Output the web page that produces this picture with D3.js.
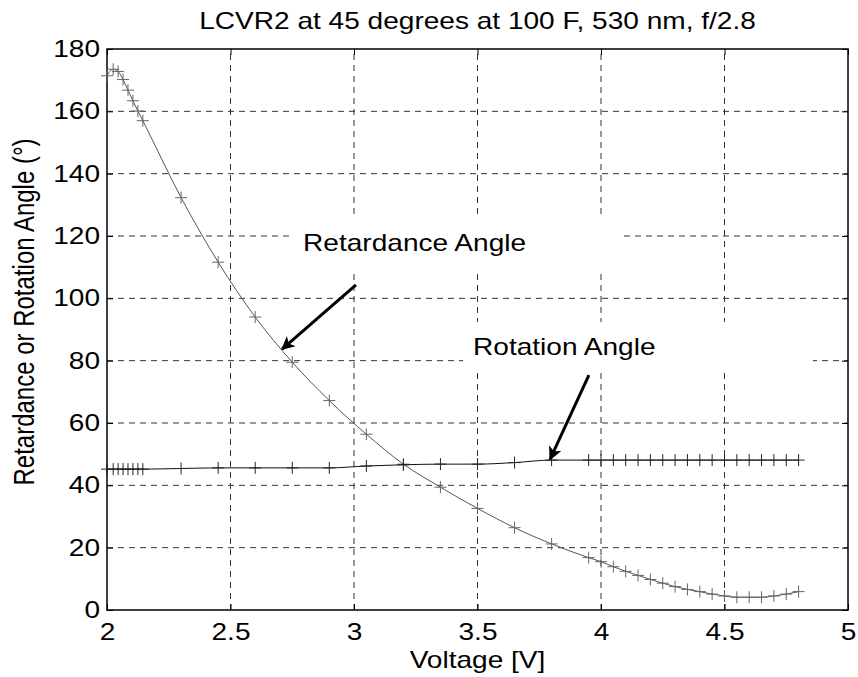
<!DOCTYPE html>
<html><head><meta charset="utf-8">
<script src="https://cdn.jsdelivr.net/npm/d3@7"></script>
<style>body{margin:0;background:#fff}svg{display:block}text{font-family:"Liberation Sans",Arial,sans-serif}</style>
</head><body><svg id="c" width="858" height="677"></svg>
<script>
const voltage = [2.0, 2.025, 2.045, 2.065, 2.085, 2.105, 2.125, 2.145, 2.3, 2.45, 2.6, 2.75, 2.9, 3.05, 3.2, 3.35, 3.5, 3.65, 3.8, 3.95, 4.0, 4.05, 4.1, 4.15, 4.2, 4.25, 4.3, 4.35, 4.4, 4.45, 4.5, 4.55, 4.6, 4.65, 4.7, 4.75, 4.8];
const retardance = [171.4, 173.5, 172.8, 170.2, 166.8, 163.4, 160.1, 157.0, 132.3, 111.6, 94.0, 79.5, 67.2, 56.4, 46.8, 39.4, 32.6, 26.4, 21.2, 16.8, 15.5, 13.9, 12.4, 11.1, 9.8, 8.6, 7.5, 6.6, 5.9, 5.1, 4.5, 4.1, 4.1, 4.1, 4.5, 5.1, 5.9];
const rotation = [45.2, 45.2, 45.2, 45.2, 45.2, 45.2, 45.2, 45.2, 45.4, 45.6, 45.6, 45.6, 45.6, 46.2, 46.6, 46.8, 46.8, 47.3, 48.1, 48.1, 48.1, 48.1, 48.1, 48.1, 48.1, 48.1, 48.1, 48.1, 48.1, 48.1, 48.1, 48.1, 48.1, 48.1, 48.1, 48.1, 48.1];
const xTicks = [2, 2.5, 3, 3.5, 4, 4.5, 5];
const xTickLabels = ["2", "2.5", "3", "3.5", "4", "4.5", "5"];
const yTicks = [0, 20, 40, 60, 80, 100, 120, 140, 160, 180];
const yTickLabels = ["0", "20", "40", "60", "80", "100", "120", "140", "160", "180"];
const title = "LCVR2 at 45 degrees at 100 F, 530 nm, f/2.8";
const xLabel = "Voltage [V]";
const yLabel = "Retardance or Rotation Angle (\u00B0)";
const annotations = [
  {text: "Retardance Angle", x: 2.794, y: 115.2, boxRight: 4.077, from: [3.008, 104.3], to: [2.709, 83.7]},
  {text: "Rotation Angle", x: 3.482, y: 81.8, boxRight: 4.858, from: [3.951, 75.4], to: [3.794, 48.4]}
];

const SX = 1.22, FS = 23;
const svg = d3.select("#c");
const L = 107, R = 848, T = 49, B = 610;
const x = d3.scaleLinear().domain([2, 5]).range([L, R]);
const y = d3.scaleLinear().domain([0, 180]).range([B, T]);

// grid
const grid = svg.append("g").attr("stroke", "#333").attr("stroke-width", 1).attr("stroke-dasharray", "6,5");
xTicks.slice(1, -1).forEach(v => grid.append("line").attr("x1", x(v)).attr("x2", x(v)).attr("y1", B).attr("y2", T));
yTicks.slice(1, -1).forEach(v => grid.append("line").attr("y1", y(v)).attr("y2", y(v)).attr("x1", L).attr("x2", R));

// annotation boxes
annotations.forEach(a => {
  svg.append("rect").attr("x", x(a.x) - 10).attr("y", y(a.y) - 33)
    .attr("width", x(a.boxRight) - x(a.x) + 10).attr("height", 51).attr("fill", "#fff");
});

// axes
function styleAxis(g) {
  g.select(".domain").remove();
  g.selectAll("line").attr("stroke", "#000").attr("stroke-width", 1);
  g.selectAll("text").attr("font-size", FS).attr("fill", "#000").attr("font-family", '"Liberation Sans",Arial,sans-serif');
}
const xb = svg.append("g").attr("transform", `translate(0,${B})`)
  .call(d3.axisBottom(x).tickValues(xTicks).tickFormat((d, i) => xTickLabels[i]).tickSize(-6).tickPadding(13.7));
styleAxis(xb);
xb.selectAll("text").attr("transform", `scale(${SX},1)`);
const yl = svg.append("g").attr("transform", `translate(${L},0)`)
  .call(d3.axisLeft(y).tickValues(yTicks).tickFormat((d, i) => yTickLabels[i]).tickSize(-6).tickPadding(5.7));
styleAxis(yl);
yl.selectAll("text").attr("transform", `scale(${SX},1)`);
const xt = svg.append("g").attr("transform", `translate(0,${T})`)
  .call(d3.axisTop(x).tickValues(xTicks).tickFormat("").tickSize(-6));
styleAxis(xt);
const yr = svg.append("g").attr("transform", `translate(${R},0)`)
  .call(d3.axisRight(y).tickValues(yTicks).tickFormat("").tickSize(-6));
styleAxis(yr);
svg.append("rect").attr("x", L).attr("y", T).attr("width", R - L).attr("height", B - T)
  .attr("fill", "none").attr("stroke", "#000").attr("stroke-width", 1.5);

// data
function series(vals, lineColor, markColor) {
  const pts = voltage.map((v, i) => [x(v), y(vals[i])]);
  svg.append("path").attr("d", d3.line().curve(d3.curveMonotoneX)(pts))
    .attr("fill", "none").attr("stroke", lineColor).attr("stroke-width", 1);
  const s = 6;
  svg.append("path").attr("d", pts.map(p => `M${p[0]-s},${p[1]}H${p[0]+s}M${p[0]},${p[1]-s}V${p[1]+s}`).join(""))
    .attr("fill", "none").attr("stroke", markColor).attr("stroke-width", 1);
}
series(retardance, "#555", "#666");
series(rotation, "#111", "#222");

// annotations
svg.append("defs").append("marker").attr("id", "ah").attr("viewBox", "0 0 10 10").attr("refX", 9).attr("refY", 5)
  .attr("markerWidth", 6).attr("markerHeight", 4.5).attr("markerUnits", "strokeWidth").attr("orient", "auto")
  .append("path").attr("d", "M0,0L10,5L0,10L2.5,5Z").attr("fill", "#000");
annotations.forEach(a => {
  svg.append("text").attr("transform", `translate(${x(a.x)},${y(a.y)}) scale(${SX},1)`)
    .attr("font-size", FS).text(a.text);
  svg.append("line").attr("x1", x(a.from[0])).attr("y1", y(a.from[1])).attr("x2", x(a.to[0])).attr("y2", y(a.to[1]))
    .attr("stroke", "#000").attr("stroke-width", 3).attr("marker-end", "url(#ah)");
});

// titles
svg.append("text").attr("transform", `translate(${(L + R) / 2},29) scale(${SX},1)`).attr("text-anchor", "middle")
  .attr("font-size", FS).text(title);
svg.append("text").attr("transform", `translate(${(L + R) / 2},668) scale(${SX},1)`).attr("text-anchor", "middle")
  .attr("font-size", FS).text(xLabel);
svg.append("text").attr("transform", `translate(34,312) scale(${SX},1) rotate(-90)`).attr("text-anchor", "middle")
  .attr("font-size", 24).text(yLabel);
</script></body></html>
